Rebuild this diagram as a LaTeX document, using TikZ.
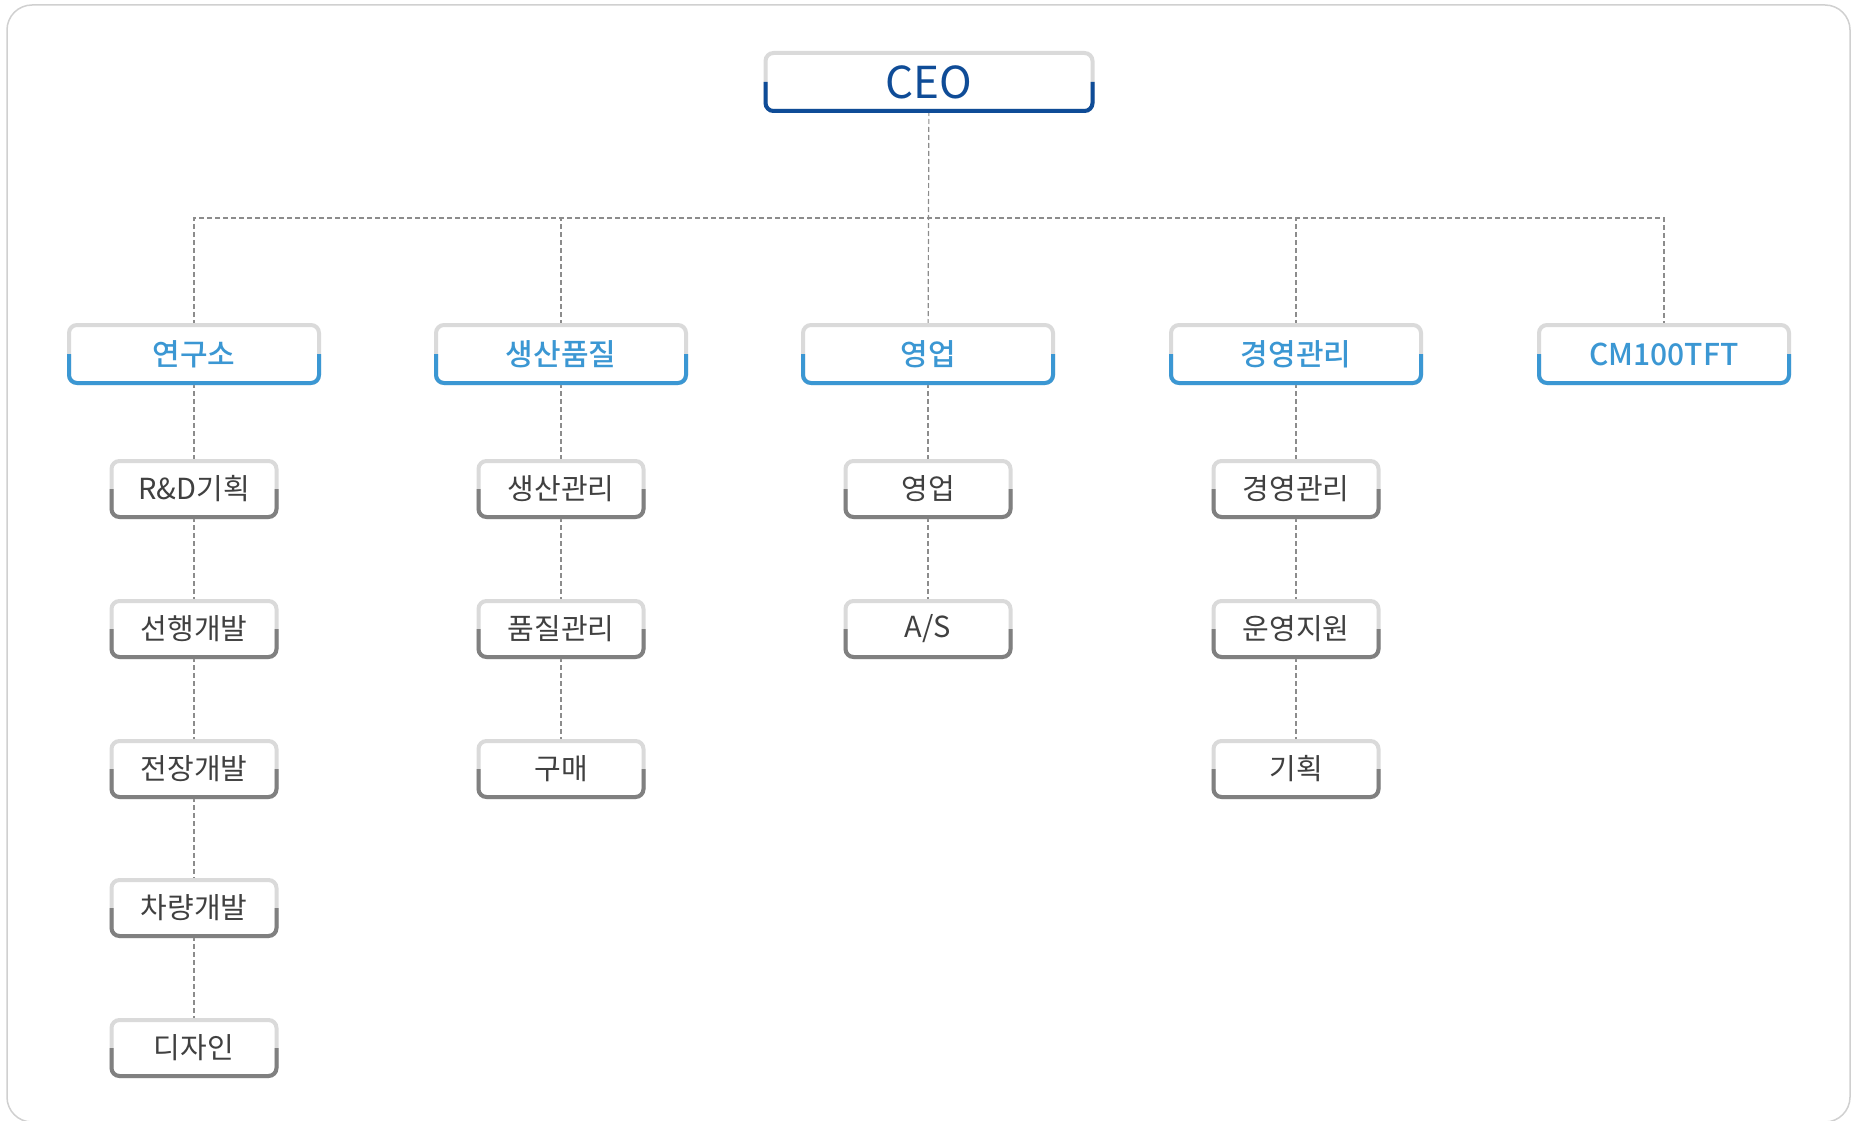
\documentclass[tikz,border=0pt]{standalone}
\usepackage{fontspec}
\setmainfont{Noto Sans CJK KR}
\newfontfamily\deptfont{Noto Sans CJK KR Medium}
\usetikzlibrary{backgrounds}

\definecolor{ceoblue}{HTML}{0F4C97}
\definecolor{deptblue}{HTML}{3B97D3}
\definecolor{teamgrey}{HTML}{808080}
\definecolor{topgrey}{HTML}{DADADA}
\definecolor{teamtext}{HTML}{404040}
\definecolor{linegrey}{HTML}{8C8C8C}
\definecolor{framegrey}{HTML}{D0D0D0}

\tikzset{
  lowpart/.style={draw=#1, line width=4pt, rounded corners=8pt},
  orgbox/.style={draw=topgrey, fill=white, line width=4pt, rounded corners=8pt, outer sep=0pt},
  ceobox/.style={orgbox, minimum width=327pt, minimum height=58pt, text=ceoblue,
    font=\fontsize{44}{48}\selectfont},
  deptbox/.style={orgbox, minimum width=250pt, minimum height=58pt, text=deptblue,
    font=\fontsize{30}{34}\deptfont},
  teambox/.style={orgbox, minimum width=165pt, minimum height=56pt, text=teamtext,
    font=\fontsize{29}{33}\selectfont},
  conn/.style={draw=linegrey, line width=1.2pt, dash pattern=on 5pt off 3pt}
}

\begin{document}
\begin{tikzpicture}[x=1pt, y=-1pt]
            \useasboundingbox (0,0) rectangle (1857,1121);
            \draw[framegrey, line width=1.5pt, rounded corners=25pt] (7,5) rectangle (1850,1122);

            % top
            \node(ceo) at (929,82) [ceobox] {CEO};
            \coordinate(bus) at (929,218);

            % departments
            \node(yeongu) at (194,354) [deptbox] {연구소};
            \node(saengsan) at (561,354) [deptbox] {생산품질};
            \node(yeongeop) at (928,354) [deptbox] {영업};
            \node(gyeongyeong) at (1296,354) [deptbox] {경영관리};
            \node(cmtft) at (1664,354) [deptbox] {CM100TFT};

            % teams
            \node(rnd) at (194,489) [teambox] {R\&D기획};
            \node(seonhaeng) at (194,629) [teambox] {선행개발};
            \node(jeonjang) at (194,769) [teambox] {전장개발};
            \node(charyang) at (194,908) [teambox] {차량개발};
            \node(design) at (194,1048) [teambox] {디자인};

            \node(prodmgmt) at (561,489) [teambox] {생산관리};
            \node(quality) at (561,629) [teambox] {품질관리};
            \node(purchase) at (561,769) [teambox] {구매};

            \node(sales) at (928,489) [teambox] {영업};
            \node(as) at (928,629) [teambox] {A/S};

            \node(mgmt) at (1296,489) [teambox] {경영관리};
            \node(support) at (1296,629) [teambox] {운영지원};
            \node(planning) at (1296,769) [teambox] {기획};

            % coloured lower half of each box
            \foreach \n/\c in {ceo/ceoblue, yeongu/deptblue, saengsan/deptblue, yeongeop/deptblue,
                gyeongyeong/deptblue, cmtft/deptblue, rnd/teamgrey, seonhaeng/teamgrey,
                jeonjang/teamgrey, charyang/teamgrey, design/teamgrey, prodmgmt/teamgrey,
                quality/teamgrey, purchase/teamgrey, sales/teamgrey, as/teamgrey,
                mgmt/teamgrey, support/teamgrey, planning/teamgrey}
              \draw[lowpart=\c] (\n.west) -- (\n.south west) -- (\n.south east) -- (\n.east);

            \begin{scope}[on background layer]
            \draw[conn] (ceo) -- (yeongeop);
            \draw[conn] (yeongu.north) |- (bus) -| (cmtft.north);
            \draw[conn] (saengsan.north) -- (saengsan.north |- bus);
            \draw[conn] (gyeongyeong.north) -- (gyeongyeong.north |- bus);

            \draw[conn] (yeongu) -- (rnd);
            \draw[conn] (rnd) -- (seonhaeng);
            \draw[conn] (seonhaeng) -- (jeonjang);
            \draw[conn] (jeonjang) -- (charyang);
            \draw[conn] (charyang) -- (design);

            \draw[conn] (saengsan) -- (prodmgmt);
            \draw[conn] (prodmgmt) -- (quality);
            \draw[conn] (quality) -- (purchase);

            \draw[conn] (yeongeop) -- (sales);
            \draw[conn] (sales) -- (as);

            \draw[conn] (gyeongyeong) -- (mgmt);
            \draw[conn] (mgmt) -- (support);
            \draw[conn] (support) -- (planning);
            \end{scope}
        \end{tikzpicture}
\end{document}
